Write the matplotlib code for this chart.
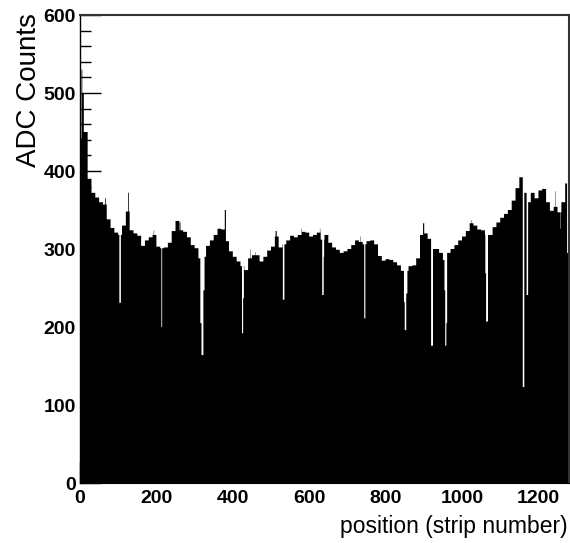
import numpy as np
import matplotlib
matplotlib.use('Agg')
import matplotlib.pyplot as plt
from matplotlib.ticker import MultipleLocator

n_strips = 1280
bin_width = 10   # profile is read in groups of 10 strips

# mean ADC counts for each group of 10 strips
profile = [500, 450, 390, 372, 366, 360, 357, 338, 327, 321,
           318, 330, 348, 324, 320, 317, 304, 311, 315, 318,
           303, 301, 302, 308, 323, 336, 324, 322, 315, 305,
           301, 288, 290, 304, 311, 318, 326, 325, 310, 297,
           290, 284, 278, 273, 288, 292, 292, 284, 290, 298,
           303, 316, 302, 306, 311, 317, 315, 318, 322, 321,
           316, 318, 321, 312, 318, 308, 302, 299, 295, 297,
           300, 305, 311, 309, 306, 310, 311, 306, 291, 285,
           287, 286, 283, 279, 272, 272, 278, 279, 288, 318,
           320, 313, 300, 300, 295, 286, 295, 300, 305, 311,
           316, 323, 333, 330, 325, 324, 318, 318, 328, 334,
           340, 345, 350, 362, 378, 392, 372, 360, 372, 365,
           375, 377, 360, 349, 354, 347, 360, 384]

# single strips (dead / hot) that differ from their group
strip_first = [0, 4, 66, 103, 126, 193, 213, 261, 315, 318, 323, 379, 424, 427,
               445, 458, 512, 531, 580, 628, 634, 638, 733, 744, 848, 850, 854,
               898, 919, 954, 956, 959, 1024, 1061, 1063, 1159, 1169, 1244,
               1258, 1275]
strip_last = [3, 5, 67, 106, 127, 193, 214, 262, 317, 322, 325, 381, 426, 428,
              445, 458, 514, 534, 580, 628, 637, 638, 733, 746, 849, 853, 856,
              900, 923, 955, 958, 960, 1024, 1062, 1067, 1162, 1172, 1244,
              1258, 1279]
strip_value = [442, 530, 365, 231, 372, 324, 200, 334, 205, 164, 247, 350, 192, 237,
               299, 296, 323, 235, 326, 326, 241, 290, 316, 211, 232, 196, 243,
               333, 176, 247, 176, 205, 337, 269, 207, 123, 241, 374,
               326, 295]

counts = np.repeat(np.array(profile, dtype=float), bin_width)
for a, b, v in zip(strip_first, strip_last, strip_value):
    counts[a:b + 1] = v
edges = np.arange(n_strips + 1)

font = ['Liberation Sans', 'DejaVu Sans']

fig = plt.figure(figsize=(5.7, 5.43), dpi=100)
ax = fig.add_axes([80 / 570, 60 / 543, 489 / 570, 468 / 543])

ax.stairs(counts, edges, fill=True, color='black', linewidth=0)

ax.set_xlim(0, 1280)
ax.set_ylim(0, 600)
ax.xaxis.set_major_locator(MultipleLocator(200))
ax.xaxis.set_minor_locator(MultipleLocator(40))
ax.yaxis.set_major_locator(MultipleLocator(100))
ax.yaxis.set_minor_locator(MultipleLocator(20))
ax.tick_params(which='both', direction='in', top=False, right=False, color='black')
ax.tick_params(which='major', length=15, width=1)
ax.tick_params(which='minor', length=8, width=1)
ax.tick_params(axis='y', pad=3)
ax.tick_params(axis='x', pad=5)
plt.setp(ax.get_xticklabels() + ax.get_yticklabels(),
         family=font, weight='bold', size=14)

ax.spines['left'].set_color('black')
ax.spines['left'].set_linewidth(1)
for s in ['top', 'right']:
    ax.spines[s].set_color('#333333')
    ax.spines[s].set_linewidth(1.5)

fig.text(42 / 570, 1 - 13 / 543, 'ADC Counts', rotation=90, rotation_mode='anchor',
         ha='right', va='bottom', family=font, size=20)
fig.text(568 / 570, 1 - 533 / 543, 'position (strip number)', ha='right', va='baseline',
         family=font, size=16.5)

fig.savefig('out.png', dpi=100)
